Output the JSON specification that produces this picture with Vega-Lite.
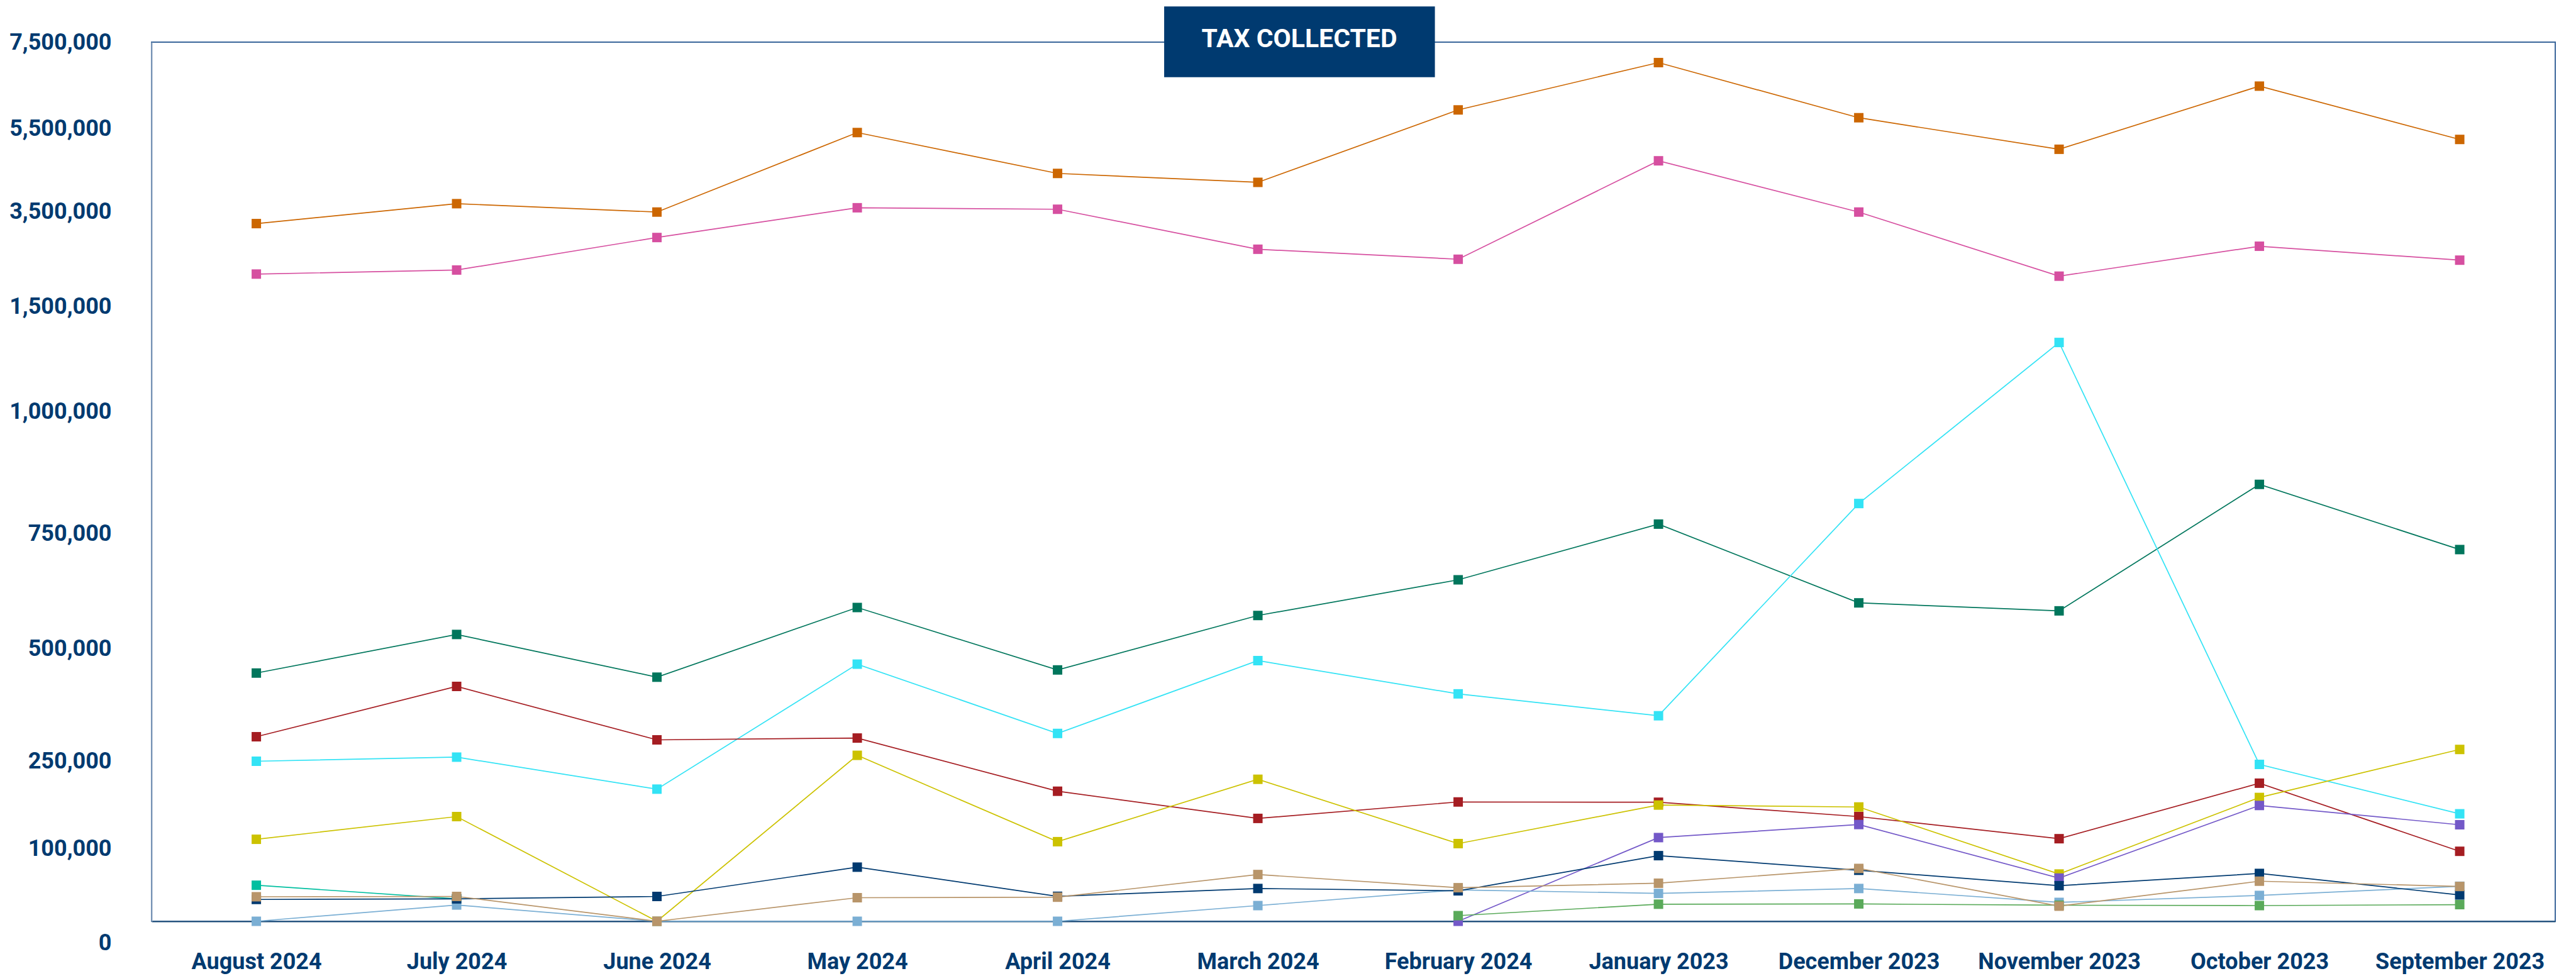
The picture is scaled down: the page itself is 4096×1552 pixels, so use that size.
{
  "$schema": "https://vega.github.io/schema/vega-lite/v6.json",
  "width": 3822,
  "height": 1398,
  "autosize": {"type": "none"},
  "padding": {"left": 241, "top": 67, "right": 33, "bottom": 87},
  "background": "white",
  "config": {"view": {"stroke": "#3A669A", "strokeWidth": 2}},
  "data": {
    "values": [
      {"month": "August 2024", "series": "Series 1", "value": 3246000},
      {"month": "July 2024", "series": "Series 1", "value": 3688000},
      {"month": "June 2024", "series": "Series 1", "value": 3488000},
      {"month": "May 2024", "series": "Series 1", "value": 5402000},
      {"month": "April  2024", "series": "Series 1", "value": 4417000},
      {"month": "March 2024", "series": "Series 1", "value": 4202000},
      {"month": "February 2024", "series": "Series 1", "value": 5930000},
      {"month": "January 2023", "series": "Series 1", "value": 7026000},
      {"month": "December 2023", "series": "Series 1", "value": 5749000},
      {"month": "November 2023", "series": "Series 1", "value": 4999000},
      {"month": "October 2023", "series": "Series 1", "value": 6481000},
      {"month": "September 2023", "series": "Series 1", "value": 5236000},

      {"month": "August 2024", "series": "Series 2", "value": 2187000},
      {"month": "July 2024", "series": "Series 2", "value": 2272000},
      {"month": "June 2024", "series": "Series 2", "value": 2954000},
      {"month": "May 2024", "series": "Series 2", "value": 3590000},
      {"month": "April  2024", "series": "Series 2", "value": 3554000},
      {"month": "March 2024", "series": "Series 2", "value": 2708000},
      {"month": "February 2024", "series": "Series 2", "value": 2498000},
      {"month": "January 2023", "series": "Series 2", "value": 4721000},
      {"month": "December 2023", "series": "Series 2", "value": 3488000},
      {"month": "November 2023", "series": "Series 2", "value": 2143000},
      {"month": "October 2023", "series": "Series 2", "value": 2771000},
      {"month": "September 2023", "series": "Series 2", "value": 2479000},

      {"month": "August 2024", "series": "Series 3", "value": 445400},
      {"month": "July 2024", "series": "Series 3", "value": 530300},
      {"month": "June 2024", "series": "Series 3", "value": 436300},
      {"month": "May 2024", "series": "Series 3", "value": 589000},
      {"month": "April  2024", "series": "Series 3", "value": 452300},
      {"month": "March 2024", "series": "Series 3", "value": 571600},
      {"month": "February 2024", "series": "Series 3", "value": 649300},
      {"month": "January 2023", "series": "Series 3", "value": 769400},
      {"month": "December 2023", "series": "Series 3", "value": 599100},
      {"month": "November 2023", "series": "Series 3", "value": 581700},
      {"month": "October 2023", "series": "Series 3", "value": 850800},
      {"month": "September 2023", "series": "Series 3", "value": 715200},

      {"month": "August 2024", "series": "Series 4", "value": 250400},
      {"month": "July 2024", "series": "Series 4", "value": 259500},
      {"month": "June 2024", "series": "Series 4", "value": 202500},
      {"month": "May 2024", "series": "Series 4", "value": 465100},
      {"month": "April  2024", "series": "Series 4", "value": 311900},
      {"month": "March 2024", "series": "Series 4", "value": 472900},
      {"month": "February 2024", "series": "Series 4", "value": 399400},
      {"month": "January 2023", "series": "Series 4", "value": 351000},
      {"month": "December 2023", "series": "Series 4", "value": 811600},
      {"month": "November 2023", "series": "Series 4", "value": 1329800},
      {"month": "October 2023", "series": "Series 4", "value": 244900},
      {"month": "September 2023", "series": "Series 4", "value": 160200},

      {"month": "August 2024", "series": "Series 5", "value": 304600},
      {"month": "July 2024", "series": "Series 5", "value": 415900},
      {"month": "June 2024", "series": "Series 5", "value": 297700},
      {"month": "May 2024", "series": "Series 5", "value": 301700},
      {"month": "April  2024", "series": "Series 5", "value": 198900},
      {"month": "March 2024", "series": "Series 5", "value": 152300},
      {"month": "February 2024", "series": "Series 5", "value": 180500},
      {"month": "January 2023", "series": "Series 5", "value": 180000},
      {"month": "December 2023", "series": "Series 5", "value": 155400},
      {"month": "November 2023", "series": "Series 5", "value": 117500},
      {"month": "October 2023", "series": "Series 5", "value": 212700},
      {"month": "September 2023", "series": "Series 5", "value": 96700},

      {"month": "August 2024", "series": "Series 6", "value": 116500},
      {"month": "July 2024", "series": "Series 6", "value": 155400},
      {"month": "June 2024", "series": "Series 6", "value": 0},
      {"month": "May 2024", "series": "Series 6", "value": 263500},
      {"month": "April  2024", "series": "Series 6", "value": 112400},
      {"month": "March 2024", "series": "Series 6", "value": 219400},
      {"month": "February 2024", "series": "Series 6", "value": 109100},
      {"month": "January 2023", "series": "Series 6", "value": 175200},
      {"month": "December 2023", "series": "Series 6", "value": 171900},
      {"month": "November 2023", "series": "Series 6", "value": 65300},
      {"month": "October 2023", "series": "Series 6", "value": 188200},
      {"month": "September 2023", "series": "Series 6", "value": 276500},

      {"month": "February 2024", "series": "Series 7", "value": 0},
      {"month": "January 2023", "series": "Series 7", "value": 119400},
      {"month": "December 2023", "series": "Series 7", "value": 141800},
      {"month": "November 2023", "series": "Series 7", "value": 59700},
      {"month": "October 2023", "series": "Series 7", "value": 174500},
      {"month": "September 2023", "series": "Series 7", "value": 141400},

      {"month": "August 2024", "series": "Series 12", "value": 49800},
      {"month": "July 2024", "series": "Series 12", "value": 31000},

      {"month": "August 2024", "series": "Series 10", "value": 0},
      {"month": "July 2024", "series": "Series 10", "value": 22500},
      {"month": "June 2024", "series": "Series 10", "value": 0},
      {"month": "May 2024", "series": "Series 10", "value": 0},
      {"month": "April  2024", "series": "Series 10", "value": 0},
      {"month": "March 2024", "series": "Series 10", "value": 21700},
      {"month": "February 2024", "series": "Series 10", "value": 43400},
      {"month": "January 2023", "series": "Series 10", "value": 38500},
      {"month": "December 2023", "series": "Series 10", "value": 45300},
      {"month": "November 2023", "series": "Series 10", "value": 26100},
      {"month": "October 2023", "series": "Series 10", "value": 35700},
      {"month": "September 2023", "series": "Series 10", "value": 48400},

      {"month": "February 2024", "series": "Series 11", "value": 7800},
      {"month": "January 2023", "series": "Series 11", "value": 23600},
      {"month": "December 2023", "series": "Series 11", "value": 24000},
      {"month": "November 2023", "series": "Series 11", "value": 22200},
      {"month": "October 2023", "series": "Series 11", "value": 21700},
      {"month": "September 2023", "series": "Series 11", "value": 23000},

      {"month": "August 2024", "series": "Series 8", "value": 30200},
      {"month": "July 2024", "series": "Series 8", "value": 31000},
      {"month": "June 2024", "series": "Series 8", "value": 34300},
      {"month": "May 2024", "series": "Series 8", "value": 74800},
      {"month": "April  2024", "series": "Series 8", "value": 34500},
      {"month": "March 2024", "series": "Series 8", "value": 45300},
      {"month": "February 2024", "series": "Series 8", "value": 42100},
      {"month": "January 2023", "series": "Series 8", "value": 90700},
      {"month": "December 2023", "series": "Series 8", "value": 70500},
      {"month": "November 2023", "series": "Series 8", "value": 49200},
      {"month": "October 2023", "series": "Series 8", "value": 66100},
      {"month": "September 2023", "series": "Series 8", "value": 36400},

      {"month": "August 2024", "series": "Series 9", "value": 33900},
      {"month": "July 2024", "series": "Series 9", "value": 34300},
      {"month": "June 2024", "series": "Series 9", "value": 0},
      {"month": "May 2024", "series": "Series 9", "value": 32600},
      {"month": "April  2024", "series": "Series 9", "value": 33300},
      {"month": "March 2024", "series": "Series 9", "value": 64600},
      {"month": "February 2024", "series": "Series 9", "value": 46400},
      {"month": "January 2023", "series": "Series 9", "value": 52600},
      {"month": "December 2023", "series": "Series 9", "value": 73000},
      {"month": "November 2023", "series": "Series 9", "value": 20900},
      {"month": "October 2023", "series": "Series 9", "value": 55400},
      {"month": "September 2023", "series": "Series 9", "value": 48100}
    ]
  },
  "layer": [
    {
      "mark": {
        "type": "line",
        "strokeWidth": 1.7,
        "point": {"shape": "square", "size": 225, "filled": true, "opacity": 1}
      },
      "encoding": {
        "x": {
          "field": "month",
          "type": "nominal",
          "scale": {
            "type": "point",
            "domain": ["August 2024", "July 2024", "June 2024", "May 2024", "April  2024", "March 2024", "February 2024", "January 2023", "December 2023", "November 2023", "October 2023", "September 2023"],
            "padding": 0.5,
            "align": 0.523
          },
          "axis": {
            "title": null,
            "labelAngle": 0,
            "labelFont": "Roboto",
            "labelFontSize": 36,
            "labelFontWeight": "bold",
            "labelColor": "#003A70",
            "labelBaseline": "alphabetic",
            "labelPadding": 75,
            "labelLimit": 0,
            "ticks": false,
            "tickSize": 0,
            "grid": false,
            "domainColor": "#1F4E79",
            "domainWidth": 2,
            "labelOverlap": false
          }
        },
        "y": {
          "field": "value",
          "type": "quantitative",
          "scale": {
            "type": "linear",
            "domain": [0, 100000, 250000, 500000, 750000, 1000000, 1500000, 3500000, 5500000, 7500000],
            "range": [1398, 1282.9, 1143.8, 964.0, 781.5, 587.4, 420.9, 269.3, 137.3, 0],
            "zero": false,
            "nice": false,
            "clamp": false
          },
          "axis": {
            "title": null,
            "values": [0, 100000, 250000, 500000, 750000, 1000000, 1500000, 3500000, 5500000, 7500000],
            "labelExpr": "format(datum.value, ',.0f')",
            "labelFont": "Roboto",
            "labelFontSize": 36,
            "labelFontWeight": "bold",
            "labelColor": "#003A70",
            "labelAlign": "right",
            "labelBaseline": "middle",
            "labelPadding": 64,
            "labelLimit": 0,
            "labelOffset": {"condition": {"test": "datum.value === 0", "value": 34}, "value": 0},
            "labelOverlap": false,
            "labelBound": false,
            "labelFlush": false,
            "ticks": false,
            "tickSize": 0,
            "grid": false,
            "domainColor": "#8CA3BF",
            "domainWidth": 2
          }
        },
        "color": {
          "field": "series",
          "type": "nominal",
          "legend": null,
          "scale": {
            "domain": ["Series 1", "Series 2", "Series 3", "Series 4", "Series 5", "Series 6", "Series 7", "Series 8", "Series 9", "Series 10", "Series 11", "Series 12"],
            "range": ["#CC6600", "#D64FA0", "#00765C", "#33E3F5", "#A51D22", "#CCC200", "#7358C8", "#003A70", "#B8956A", "#7BAFD4", "#5AAA5A", "#00BFA0"]
          }
        }
      }
    },
    {
      "data": {"values": [{"label": "TAX COLLECTED"}]},
      "mark": {"type": "rect", "color": "#003A70", "xOffset": -149, "x2Offset": -37},
      "encoding": {
        "x": {"datum": "March 2024", "type": "nominal", "title": null},
        "x2": {"datum": "February 2024"},
        "y": {"datum": 8326000, "type": "quantitative", "title": null},
        "y2": {"datum": 6687000}
      }
    },
    {
      "data": {"values": [{"label": "TAX COLLECTED"}]},
      "mark": {"type": "text", "color": "white", "font": "Roboto", "fontSize": 41, "fontWeight": "bold", "align": "center", "baseline": "middle", "dx": 66},
      "encoding": {
        "x": {"datum": "March 2024", "type": "nominal", "title": null},
        "y": {"datum": 7551000, "type": "quantitative", "title": null},
        "text": {"field": "label"}
      }
    }
  ]
}
